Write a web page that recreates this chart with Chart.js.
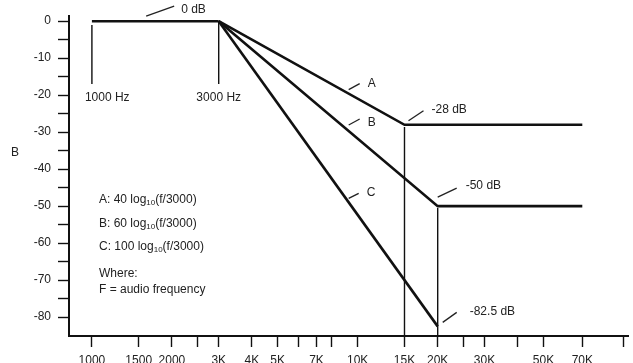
<!DOCTYPE html>
<html>
<head>
<meta charset="utf-8">
<script src="https://cdn.jsdelivr.net/npm/chart.js@4.4.1/dist/chart.umd.min.js"></script>
<style>
    html, body { margin: 0; padding: 0; background: #fff; }
    #wrap { width: 633px; height: 363px; }
</style>
</head>
<body>
<div id="wrap"><canvas id="chart" width="633" height="363"></canvas></div>
<script>
// Roll-off curves (frequency in Hz, level in dB)
const flatFreq = [1000, 3000];
const flatDb = [0, 0];
const curveAFreq = [3000, 15000, 70000];
const curveADb = [0, -28, -28];
const curveBFreq = [3000, 20000, 70000];
const curveBDb = [0, -50, -50];
const curveCFreq = [3000, 20000];
const curveCDb = [0, -82.5];

// Thin vertical markers
const markerFreq = [1000, 3000, 15000, 20000];
const markerTopDb = [-1, 0, -28.6, -50.5];
const markerBottomDb = [-17, -17, -85.1, -85.1];

// Axes
const xMin = 820, xMax = 104000;
const yMin = -85.1, yMax = 1.4;
const xTickValues = [1000, 1500, 2000, 2500, 3000, 4000, 5000, 6000, 7000, 8000, 10000, 15000, 20000, 25000, 30000, 40000, 50000, 70000, 100000];
const xTickLabels = ['1000', '1500', '2000', '', '3K', '4K', '5K', '', '7K', '', '10K', '15K', '20K', '', '30K', '', '50K', '70K', ''];
const yTickValues = [0, -5, -10, -15, -20, -25, -30, -35, -40, -45, -50, -55, -60, -65, -70, -75, -80];
const yTickLabels = ['0', '', '-10', '', '-20', '', '-30', '', '-40', '', '-50', '', '-60', '', '-70', '', '-80'];

// Callout texts
const kneeLabels = ['-28 dB', '-50 dB', '-82.5 dB'];
const kneeFreq = [15000, 20000, 20000];
const kneeDb = [-28, -50, -82.5];
const curveNames = ['A', 'B', 'C'];
const curveLabelFreq = 9250;
const formulaLines = [
    ['A: 40 log', '10', '(f/3000)'],
    ['B: 60 log', '10', '(f/3000)'],
    ['C: 100 log', '10', '(f/3000)']
];
const noteLines = ['Where:', 'F = audio frequency'];

const INK = '#111';
const TEXT = '#222';
const FONT = "'Liberation Sans', Arial, sans-serif";

function pts(fs, ds) {
    return fs.map((f, i) => ({ x: f, y: ds[i] }));
}

const lineStyle = { borderColor: INK, borderWidth: 2.6, pointRadius: 0, tension: 0, fill: false };
const thinStyle = { borderColor: INK, borderWidth: 1.4, pointRadius: 0, tension: 0, fill: false };

const datasets = [
    Object.assign({ label: 'flat', data: pts(flatFreq, flatDb) }, lineStyle),
    Object.assign({ label: 'A', data: pts(curveAFreq, curveADb) }, lineStyle),
    Object.assign({ label: 'B', data: pts(curveBFreq, curveBDb) }, lineStyle),
    Object.assign({ label: 'C', data: pts(curveCFreq, curveCDb) }, lineStyle)
];
markerFreq.forEach((f, i) => {
    datasets.push(Object.assign({
        label: 'marker' + i,
        data: [{ x: f, y: markerTopDb[i] }, { x: f, y: markerBottomDb[i] }]
    }, thinStyle));
});

function leader(ctx, x0, y0, x1, y1) {
    ctx.beginPath();
    ctx.moveTo(x0, y0);
    ctx.lineTo(x1, y1);
    ctx.stroke();
}

// y on a drawn curve at pixel x, between its first two points
function curveYAt(chart, dsIndex, px) {
    const p = chart.getDatasetMeta(dsIndex).data;
    const t = (px - p[0].x) / (p[1].x - p[0].x);
    return p[0].y + t * (p[1].y - p[0].y);
}

const calloutPlugin = {
    id: 'callouts',
    afterDatasetsDraw(chart) {
        const ctx = chart.ctx;
        const xs = chart.scales.x, ys = chart.scales.y;
        const area = chart.chartArea;
        ctx.save();
        ctx.strokeStyle = TEXT;
        ctx.fillStyle = TEXT;
        ctx.lineWidth = 1.3;
        ctx.font = '12px ' + FONT;
        ctx.textBaseline = 'middle';
        ctx.textAlign = 'left';

        // 0 dB
        let ax = xs.getPixelForValue(1600), ay = ys.getPixelForValue(0);
        leader(ctx, ax, ay - 5, ax + 28, ay - 15);
        ctx.fillText('0 dB', ax + 35, ay - 11);

        // knee levels
        const kneeOff = [[4, -4, 19, -14, 27, -15], [0, -9, 19, -18, 28, -20], [5, -4, 19, -14, 32, -15]];
        kneeLabels.forEach((t, i) => {
            const kx = xs.getPixelForValue(kneeFreq[i]), ky = ys.getPixelForValue(kneeDb[i]);
            const o = kneeOff[i];
            leader(ctx, kx + o[0], ky + o[1], kx + o[2], ky + o[3]);
            ctx.fillText(t, kx + o[4], ky + o[5]);
        });

        // curve names
        const nameOff = [[-4, 11, -10, 19, -10], [-6, 11, -12, 19, -8], [-4, 10, -9, 18, -10]];
        const px = xs.getPixelForValue(curveLabelFreq);
        curveNames.forEach((n, i) => {
            const cy = curveYAt(chart, i + 1, px);
            const o = nameOff[i];
            leader(ctx, px, cy + o[0], px + o[1], cy + o[2]);
            ctx.fillText(n, px + o[3], cy + o[4]);
        });

        // frequency labels under the short markers
        const hy = ys.getPixelForValue(markerBottomDb[0]) + 14;
        ctx.fillText('1000 Hz', xs.getPixelForValue(1000) - 7, hy);
        ctx.textAlign = 'center';
        ctx.fillText('3000 Hz', xs.getPixelForValue(3000), hy);

        // formula block
        ctx.textAlign = 'left';
        const fx = area.left + 30;
        const fyOff = [184, 208, 231];
        formulaLines.forEach((parts, i) => {
            const fy = area.top + fyOff[i];
            let x = fx;
            ctx.font = '12px ' + FONT;
            ctx.fillText(parts[0], x, fy);
            x += ctx.measureText(parts[0]).width;
            ctx.font = '8px ' + FONT;
            ctx.fillText(parts[1], x, fy + 3);
            x += ctx.measureText(parts[1]).width;
            ctx.font = '12px ' + FONT;
            ctx.fillText(parts[2], x, fy);
        });
        ctx.fillText(noteLines[0], fx, area.top + 258);
        ctx.fillText(noteLines[1], fx, area.top + 274);

        // axis title
        ctx.textAlign = 'center';
        ctx.fillText('B', 15, ys.getPixelForValue(-35.5));
        ctx.restore();
    }
};

new Chart(document.getElementById('chart'), {
    type: 'line',
    data: { datasets: datasets },
    options: {
        responsive: false,
        animation: false,
        devicePixelRatio: 1,
        layout: { padding: { top: 16, right: 5, left: 0, bottom: 0 } },
        plugins: {
            legend: { display: false },
            tooltip: { enabled: false },
            title: { display: false }
        },
        scales: {
            x: {
                type: 'logarithmic',
                min: xMin,
                max: xMax,
                afterBuildTicks(scale) {
                    scale.ticks = xTickValues.map(v => ({ value: v }));
                },
                afterFit(scale) {
                    scale.height = 27;
                    scale.paddingLeft = 0;
                    scale.paddingRight = 0;
                },
                ticks: {
                    autoSkip: false,
                    maxRotation: 0,
                    padding: 6,
                    color: TEXT,
                    font: { family: FONT, size: 12 },
                    callback: (v, i) => xTickLabels[i]
                },
                grid: {
                    drawOnChartArea: false,
                    drawTicks: true,
                    tickLength: 11,
                    tickColor: INK,
                    tickWidth: 1.4
                },
                border: { display: true, color: INK, width: 2 }
            },
            y: {
                type: 'linear',
                min: yMin,
                max: yMax,
                afterBuildTicks(scale) {
                    scale.ticks = yTickValues.map(v => ({ value: v }));
                },
                afterFit(scale) {
                    scale.width = 69;
                    scale.paddingTop = 0;
                    scale.paddingBottom = 0;
                },
                ticks: {
                    padding: 7,
                    color: TEXT,
                    font: { family: FONT, size: 12 },
                    callback: (v, i) => yTickLabels[i]
                },
                grid: {
                    drawOnChartArea: false,
                    drawTicks: true,
                    tickLength: 11,
                    tickColor: INK,
                    tickWidth: 1.4
                },
                border: { display: true, color: INK, width: 2 }
            }
        }
    },
    plugins: [calloutPlugin]
});
</script>
</body>
</html>
